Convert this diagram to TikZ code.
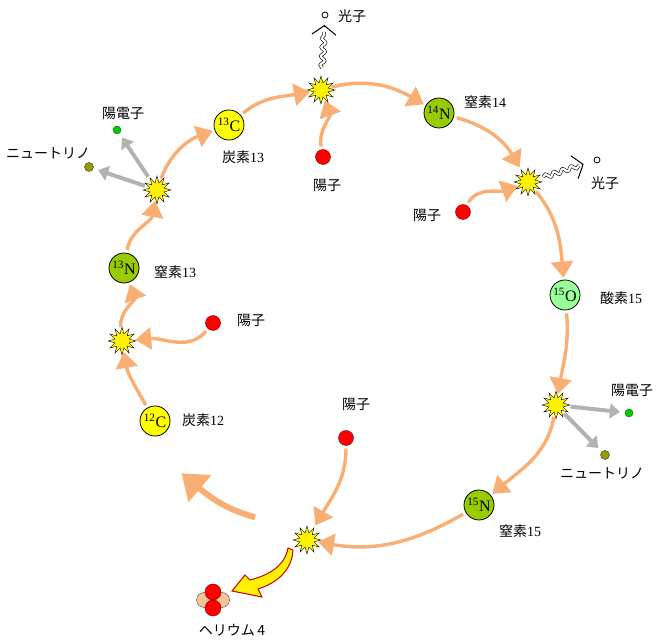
\documentclass[tikz,border=0pt]{standalone}
\usepackage{fontspec}
\setmainfont{Liberation Serif}
\newfontfamily\jp{Noto Sans CJK JP}
\usepackage{tikz}
\usetikzlibrary{shapes.geometric,arrows.meta,calc,decorations.pathmorphing}
\definecolor{carbon}{HTML}{FFFF00}
\definecolor{nitrogen}{HTML}{99CC00}
\definecolor{oxygen}{HTML}{99FF99}
\definecolor{flowor}{HTML}{F9AE74}
\definecolor{peach}{HTML}{F4C396}
\definecolor{nuolive}{HTML}{999900}

\tikzset{
  nucleus/.style={circle, draw, thick, minimum size=30pt, inner sep=0pt, font=\fontsize{16}{16}\selectfont},
  proton/.style={circle, draw=red!45!black, fill=red, minimum size=15pt, inner sep=0pt},
  burst/.style={star, star points=12, star point ratio=1.9, draw, fill=yellow, minimum size=28pt, inner sep=0pt},
  lbl/.style={font=\fontsize{14}{16}\selectfont, inner sep=0pt},
  flow/.style={draw=flowor, line width=3.4pt, -{Triangle[length=16pt,width=22pt]}, shorten <=3pt, shorten >=2pt},
  emit/.style={draw=gray!60, line width=4pt, -{Triangle[length=10pt,width=15pt]}, shorten <=4pt, shorten >=5pt},
  wave/.style={decorate, decoration={snake, amplitude=2pt, segment length=9pt}, double, double distance=2.2pt, line width=0.6pt},
  chev/.style={line width=1pt, -{Straight Barb[length=9pt,width=24pt]}}
}

\begin{document}
\begin{tikzpicture}[x=1pt, y=1pt]
    \useasboundingbox (0,0) rectangle (656,644);

    % Nuclei
    \node[nucleus, fill=carbon] (c12) at (155,223) {\textsuperscript{12}C};
    \node[nucleus, fill=nitrogen] (n13) at (124,376) {\textsuperscript{13}N};
    \node[nucleus, fill=carbon] (c13) at (229,519) {\textsuperscript{13}C};
    \node[nucleus, fill=nitrogen] (n14) at (439,531) {\textsuperscript{14}N};
    \node[nucleus, fill=oxygen] (o15) at (565,349) {\textsuperscript{15}O};
    \node[nucleus, fill=nitrogen] (n15) at (479,139) {\textsuperscript{15}N};

    % Reactions
    \node[burst] (b1) at (321,554) {};
    \node[burst] (b2) at (528,462) {};
    \node[burst] (b3) at (556,239) {};
    \node[burst] (b4) at (307,104) {};
    \node[burst] (b5) at (122,303) {};
    \node[burst] (b6) at (157,454) {};

    % Protons
    \node[proton] (p1) at (323,487) {};
    \node[proton] (p2) at (463,432) {};
    \node[proton] (p3) at (213,321) {};
    \node[proton] (p4) at (346,206) {};

    % Photons, positrons, neutrinos
    \node[circle, draw, thick, minimum size=6pt, inner sep=0pt] (ph1) at (325,629) {};
    \node[circle, draw, thick, minimum size=6pt, inner sep=0pt] (ph2) at (597,484) {};
    \node[circle, draw=green!40!black, fill=green!80!black, minimum size=8pt, inner sep=0pt] (e1) at (117,514) {};
    \node[circle, draw=green!40!black, fill=green!80!black, minimum size=8pt, inner sep=0pt] (e2) at (629,231) {};
    \node[circle, draw=black!80, fill=nuolive, minimum size=9pt, inner sep=0pt] (nu1) at (89,477) {};
    \node[circle, draw=black!80, fill=nuolive, minimum size=9pt, inner sep=0pt] (nu2) at (605,189) {};

    % Helium 4
    \node[circle, draw=black!70, fill=peach, minimum size=15pt, inner sep=0pt] (hel) at (204,44) {};
    \node[circle, draw=black!70, fill=peach, minimum size=15pt, inner sep=0pt] (her) at (222,44) {};
    \node[circle, draw=red!45!black, fill=red, minimum size=16pt, inner sep=0pt] (het) at (213,52) {};
    \node[circle, draw=red!45!black, fill=red, minimum size=16pt, inner sep=0pt] (he) at (213,36) {};

    % Labels
    \node[lbl] (l1) at (352,628) {\jp 光子};
    \node[lbl] (l2) at (243,487) {{\jp 炭素}13};
    \node[lbl] (l3) at (327,459) {\jp 陽子};
    \node[lbl] (l4) at (485,542) {{\jp 窒素}14};
    \node[lbl] (l5) at (605,461) {\jp 光子};
    \node[lbl] (l6) at (427,429) {\jp 陽子};
    \node[lbl] (l7) at (621,346) {{\jp 酸素}15};
    \node[lbl] (l8) at (632,254) {\jp 陽電子};
    \node[lbl] (l9) at (602,171) {\jp ニュートリノ};
    \node[lbl] (l10) at (520,113) {{\jp 窒素}15};
    \node[lbl] (l11) at (356,240) {\jp 陽子};
    \node[lbl] (l12) at (232,14) {\jp ヘリウム\,4};
    \node[lbl] (l13) at (203,224) {{\jp 炭素}12};
    \node[lbl] (l14) at (251,324) {\jp 陽子};
    \node[lbl] (l15) at (175,372) {{\jp 窒素}13};
    \node[lbl] (l16) at (123,531) {\jp 陽電子};
    \node[lbl] (l17) at (48,491) {\jp ニュートリノ};

    % Cycle
    \draw[flow] (c13) to[out=40, in=190] (b1);
    \draw[flow] (p1) to[out=100, in=-70] (b1);
    \draw[flow] (b1) to[out=15, in=150] (n14);
    \draw[flow] (n14) to[out=-15, in=120] (b2);
    \draw[flow] (p2) to[out=60, in=200] (b2);
    \draw[flow] (b2) to[out=-50, in=95] (o15);
    \draw[flow] (o15) to[out=-85, in=80] (b3);
    \draw[flow] (b3) to[out=-100, in=40] (n15);
    \draw[flow] (n15) to[out=-150, in=-10] (b4);
    \draw[flow] (p4) to[out=-90, in=60] (b4);
    \draw[flow] (c12) to[out=120, in=-80] (b5);
    \draw[flow] (p3) to[out=-130, in=5] (b5);
    \draw[flow] (b5) to[out=95, in=-70] (n13);
    \draw[flow] (n13) to[out=80, in=-100] (b6);
    \draw[flow] (b6) to[out=70, in=200] (c13);

    % Back round to carbon 12
    \coordinate (ret1) at (258,126);
    \coordinate (ret2) at (180,172);
    \draw[flow, line width=6pt, -{Triangle[length=24pt,width=34pt]}] (ret1) to[out=165, in=-40] (ret2);

    % Helium out
    \fill[yellow, draw=red!80!black, line width=1pt]
      (288,96) .. controls (285,79) and (270,69) .. (250,64) -- (245,69) -- (232,53)
      -- (262,47) -- (258,55) .. controls (280,62) and (292,76) .. (293,94) -- cycle;

    % Positrons and neutrinos
    \draw[emit] (b6) -- (e1);
    \draw[emit] (b6) -- (nu1);
    \draw[emit] (b3) -- (e2);
    \draw[emit] (b3) -- (nu2);

    % Gamma rays
    \draw[wave] ($(b1)!22pt!(ph1)$) -- ($(ph1)!17pt!(b1)$);
    \draw[chev] ($(ph1)!12pt!(b1)$) -- ($(ph1)!10pt!(b1)$);
    \draw[wave] ($(b2)!16pt!(ph2)$) -- ($(ph2)!19pt!(b2)$);
    \draw[chev] ($(ph2)!16pt!(b2)$) -- ($(ph2)!14pt!(b2)$);
\end{tikzpicture}
\end{document}
